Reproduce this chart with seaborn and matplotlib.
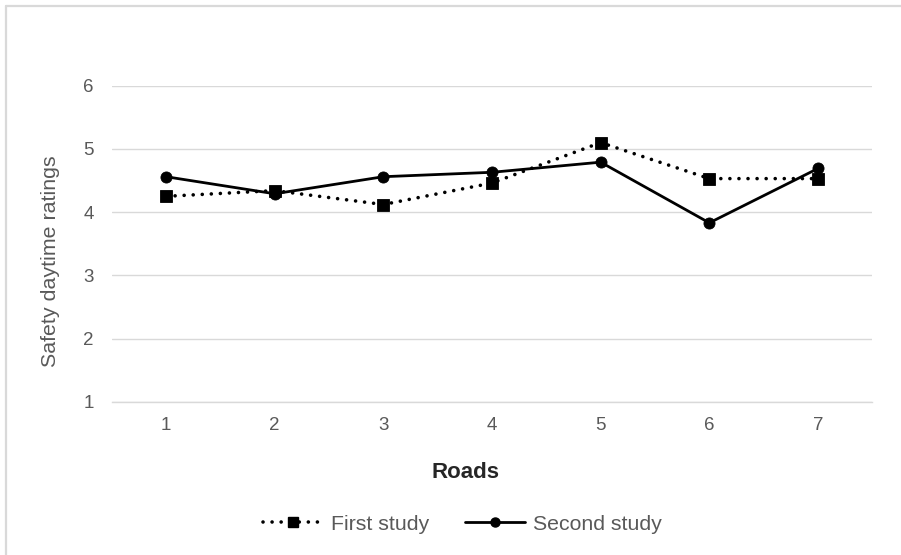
import matplotlib
matplotlib.use("Agg")
import matplotlib.pyplot as plt
from matplotlib.lines import Line2D
import pandas as pd
import seaborn as sns

# Safety daytime ratings per road, two survey rounds
roads = [1, 2, 3, 4, 5, 6, 7]
first_study = [4.25, 4.34, 4.12, 4.46, 5.10, 4.53, 4.53]
second_study = [4.56, 4.29, 4.56, 4.63, 4.79, 3.83, 4.69]
series_names = ["First study", "Second study"]
y_ticks = [1, 2, 3, 4, 5, 6]

df = pd.DataFrame({
    "Road": roads * 2,
    "Rating": first_study + second_study,
    "Study": [series_names[0]] * len(roads) + [series_names[1]] * len(roads),
})

sns.set_theme(style="white")
plt.rcParams["font.family"] = ["Liberation Sans", "DejaVu Sans"]

fig = plt.figure(figsize=(9.01, 5.55), dpi=100)
ax = fig.add_axes([111.7 / 901, 1 - 401.7 / 555, (872.3 - 111.7) / 901, (401.7 - 85.7) / 555])

dot_pattern = (0.01, 2.5)
sns.lineplot(
    data=df, x="Road", y="Rating", style="Study", ax=ax,
    markers={series_names[0]: "s", series_names[1]: "o"},
    dashes={series_names[0]: dot_pattern, series_names[1]: ""},
    color="black", linewidth=2.0, markersize=8, markeredgewidth=0.6,
    markeredgecolor="black", legend=False,
)
for ln in ax.lines:
    ln.set_dash_capstyle("round")
    ln.set_solid_capstyle("round")
    ln.set_zorder(3)
ax.lines[0].set_linewidth(2.6)

grid_col = "#d9d9d9"
ax.set_xlim(0.5, 7.5)
ax.set_ylim(1, 6)
ax.set_xticks(roads)
ax.set_yticks(y_ticks)
ax.yaxis.grid(True, color=grid_col, linewidth=1.0)
ax.xaxis.grid(False)
for side in ["top", "right", "left"]:
    ax.spines[side].set_visible(False)
ax.spines["bottom"].set_color(grid_col)
ax.spines["bottom"].set_linewidth(1.0)

text_col = "#595959"
ax.tick_params(axis="y", length=0, pad=13.0, labelsize=13.5, labelcolor=text_col)
ax.tick_params(axis="x", length=0, pad=11.0, labelsize=13.5, labelcolor=text_col)

ax.set_xlabel("Roads", fontsize=16, fontweight="bold", color="#262626", labelpad=20.5)
ax.set_ylabel("Safety daytime ratings", fontsize=15.4, color=text_col, labelpad=16.6)
# axis titles are centred on the chart area rather than the plot area
ax.xaxis.label.set_x(0.4658)
ax.yaxis.label.set_y(0.4437)

handles = [
    Line2D([], [], color="black", linewidth=2.6, linestyle=(0, dot_pattern),
           dash_capstyle="round", marker="s", markersize=6.5),
    Line2D([], [], color="black", linewidth=2.0, marker="o", markersize=6.5),
]
fig.legend(
    handles, series_names, loc="center", bbox_to_anchor=(0.5 + 12 / 901, 1 - 524 / 555),
    ncol=2, frameon=False, fontsize=15.3, labelcolor=text_col,
    handlelength=2.8, handletextpad=0.4, columnspacing=1.7,
)

# outer chart frame (left and top edges)
fig.add_artist(Line2D([6 / 901, 6 / 901], [0, 1 - 6 / 555], transform=fig.transFigure,
                      color=grid_col, linewidth=1.6))
fig.add_artist(Line2D([6 / 901, 1], [1 - 6 / 555, 1 - 6 / 555], transform=fig.transFigure,
                      color=grid_col, linewidth=1.6))

fig.savefig("out.png", dpi=100, facecolor="white")
